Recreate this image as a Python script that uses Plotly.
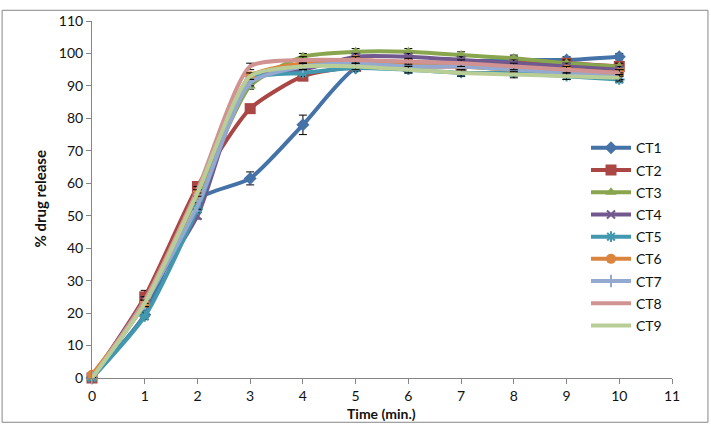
import plotly.graph_objects as go

time = [0, 1, 2, 3, 4, 5, 6, 7, 8, 9, 10]
series_names = ["CT1", "CT2", "CT3", "CT4", "CT5", "CT6", "CT7", "CT8", "CT9"]
ct1 = [0, 19.5, 55, 61.5, 78, 95.5, 97, 97.5, 98, 98, 99]
ct2 = [0, 25, 59, 83, 93, 96, 96, 96, 97, 97, 96]
ct3 = [0, 23, 56, 90, 99, 100.5, 100.5, 99.5, 98.5, 97, 96]
ct4 = [0, 24, 50, 93, 95, 99, 99, 98, 97, 96, 95]
ct5 = [0, 19, 52, 92, 94, 95.5, 95, 94, 94, 93, 92]
ct6 = [1, 23, 57, 93, 97, 98, 97, 96, 95, 95, 94]
ct7 = [0, 23, 53, 91, 96, 97, 96, 96, 95, 94, 93]
ct8 = [0, 24, 58, 96, 98, 98, 97.5, 97, 96, 95, 94]
ct9 = [0, 23, 57, 93, 96, 96, 95, 94, 93.5, 93, 92.5]
sd1 = [0, 1, 1, 2, 3, 1, 1, 1, 1, 1, 1]
sd2 = [0, 2, 1, 1, 1, 1, 1, 1, 1, 1, 1]
sd3 = [0, 1, 1, 1, 1, 1, 1, 1, 1, 1, 1]
sd4 = [0, 1, 1, 1, 1, 1, 1, 1, 1, 1, 1]
sd5 = [0, 1, 1, 1, 1, 1, 1, 1, 1, 1, 1]
sd6 = [0, 1, 1, 1, 1, 1, 1, 1, 1, 1, 1]
sd7 = [0, 1, 1, 1, 1, 1, 1, 1, 1, 1, 1]
sd8 = [0, 1, 1, 1, 1, 1, 1, 1, 1, 1, 1]
sd9 = [0, 1, 1, 1, 1, 1, 1, 1, 1, 1, 1]
y_ticks = list(range(0, 111, 10))
x_ticks = list(range(0, 12))

values = [ct1, ct2, ct3, ct4, ct5, ct6, ct7, ct8, ct9]
errors = [sd1, sd2, sd3, sd4, sd5, sd6, sd7, sd8, sd9]
colors = ["#4572A7", "#AA4643", "#89A54E", "#71588F", "#4198AF",
          "#DB843D", "#93A9CF", "#D19392", "#B9CD96"]
symbols = ["diamond", "square", "triangle-up", "x-thin", "asterisk",
           "circle", "line-ns", "line-ew", "line-ew"]
sizes = [10, 11, 10, 8, 9, 10, 9, 1, 1]

fig = go.Figure()
for i, name in enumerate(series_names):
    sym = symbols[i]
    open_sym = sym in ("x-thin", "asterisk", "line-ns", "line-ew")
    fig.add_trace(go.Scatter(
        x=time, y=values[i], name=name, mode="lines+markers",
        line=dict(color=colors[i], width=4, shape="spline", smoothing=0.6),
        marker=dict(symbol=sym, size=sizes[i], color=colors[i],
                    line=dict(color=colors[i], width=2 if open_sym else 0)),
        error_y=dict(type="data", array=errors[i], color="black",
                     thickness=1, width=4),
        cliponaxis=False, legendgroup=name,
    ))

fig.update_layout(
    width=711, height=430,
    margin=dict(l=92, r=39, t=14, b=52),
    paper_bgcolor="white", plot_bgcolor="white",
    font=dict(family="Lato", size=13, color="#111"),
    showlegend=True,
    legend=dict(x=(586 - 92) / 580, xanchor="left", y=(378 - 234) / 364,
                yanchor="middle",
                font=dict(size=14, family="Lato"), tracegroupgap=1,
                traceorder="grouped", itemwidth=40, bgcolor="rgba(0,0,0,0)"),
    xaxis=dict(range=[0, 11], tickvals=x_ticks, showgrid=False, zeroline=False,
               showline=True, linecolor="#868686", linewidth=1,
               ticks="outside", ticklen=5, tickcolor="#868686",
               tickfont=dict(size=14)),
    yaxis=dict(range=[0, 110], tickvals=y_ticks, showgrid=False, zeroline=False,
               showline=True, linecolor="#868686", linewidth=1,
               ticks="outside", ticklen=5, tickcolor="#868686",
               tickfont=dict(size=14)),
    shapes=[dict(type="rect", xref="paper", yref="paper",
                 x0=-0.155, x1=1.062, y0=-0.124, y1=1.030,
                 line=dict(color="#868686", width=1), fillcolor="rgba(0,0,0,0)")],
    annotations=[
        dict(text="<b>Time (min.)</b>", xref="paper", yref="paper",
             x=(381 - 92) / 580, y=(378 - 414) / 364, showarrow=False,
             font=dict(size=14, family="Lato"), xanchor="center", yanchor="middle"),
        dict(text="<b>% drug release</b>", xref="paper", yref="paper",
             x=(39 - 92) / 580, y=0.5, showarrow=False, textangle=-90,
             font=dict(size=15, family="Lato"), xanchor="center", yanchor="middle"),
    ],
)

fig.write_html("out.html")
